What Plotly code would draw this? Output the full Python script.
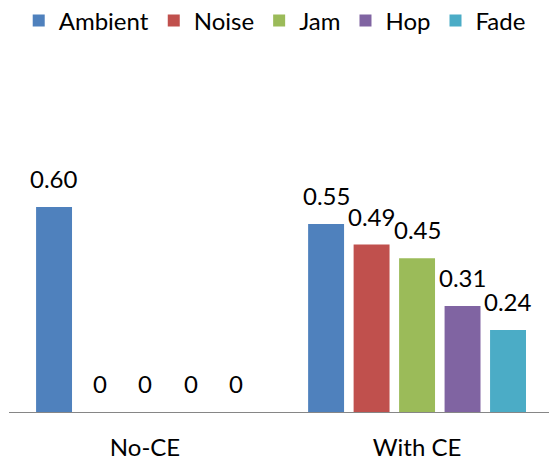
import plotly.graph_objects as go

# Categories and series values
categories = ["No-CE", "With CE"]
series_names = ["Ambient", "Noise", "Jam", "Hop", "Fade"]
ambient = [0.60, 0.55]
noise = [0.0, 0.49]
jam = [0.0, 0.45]
hop = [0.0, 0.31]
fade = [0.0, 0.24]
series_values = [ambient, noise, jam, hop, fade]
colors = ["#4F81BD", "#C0504D", "#9BBB59", "#8064A2", "#4BACC6"]

FONT = "Lato"
FSIZE = 24
W, H = 549, 460
ML, MR, MT, MB = 9, 0, 60, 48
X_RANGE = [-0.5, 1.485]
Y_RANGE = [0, 1.03]
BARGAP = 0.164
GROUPGAP = 0.21


def fmt(v):
    return "0" if v == 0 else f"{v:.2f}"


fig = go.Figure()
for name, vals, col in zip(series_names, series_values, colors):
    fig.add_trace(go.Bar(
        name=name, x=categories, y=vals,
        marker=dict(color=col, line=dict(width=0)),
    ))

# value labels above each bar, offset horizontally to the bar's slot in the group
plot_w = W - ML - MR
cat_px = plot_w / (X_RANGE[1] - X_RANGE[0])
slot_px = cat_px * (1 - BARGAP) / len(series_names)
for i, vals in enumerate(series_values):
    for cat, v in zip(categories, vals):
        fig.add_annotation(
            x=cat, y=v, text=fmt(v), showarrow=False,
            xref="x", yref="y", yanchor="bottom",
            xshift=(i - (len(series_names) - 1) / 2) * slot_px,
            yshift=12,
            font=dict(family=FONT, size=FSIZE, color="black"),
        )

fig.update_layout(
    width=W, height=H,
    margin=dict(l=ML, r=MR, t=MT, b=MB, pad=0, autoexpand=False),
    paper_bgcolor="white", plot_bgcolor="white",
    barmode="group", bargap=BARGAP, bargroupgap=GROUPGAP,
    font=dict(family=FONT, size=FSIZE, color="black"),
    showlegend=True,
    legend=dict(
        orientation="h", x=0.018, xanchor="left",
        y=(H - MB - 21) / (H - MT - MB), yanchor="middle",
        font=dict(family=FONT, size=FSIZE, color="black"),
        bgcolor="rgba(0,0,0,0)", traceorder="normal",
    ),
    xaxis=dict(
        range=X_RANGE, showgrid=False, zeroline=False, automargin=False,
        showline=True, linecolor="#868686", linewidth=1,
        ticks="", ticklabelstandoff=14,
        tickfont=dict(family=FONT, size=FSIZE, color="black"),
    ),
    yaxis=dict(
        range=Y_RANGE, visible=False, showgrid=False, zeroline=False,
        automargin=False,
    ),
)

fig.write_html("out.html")
